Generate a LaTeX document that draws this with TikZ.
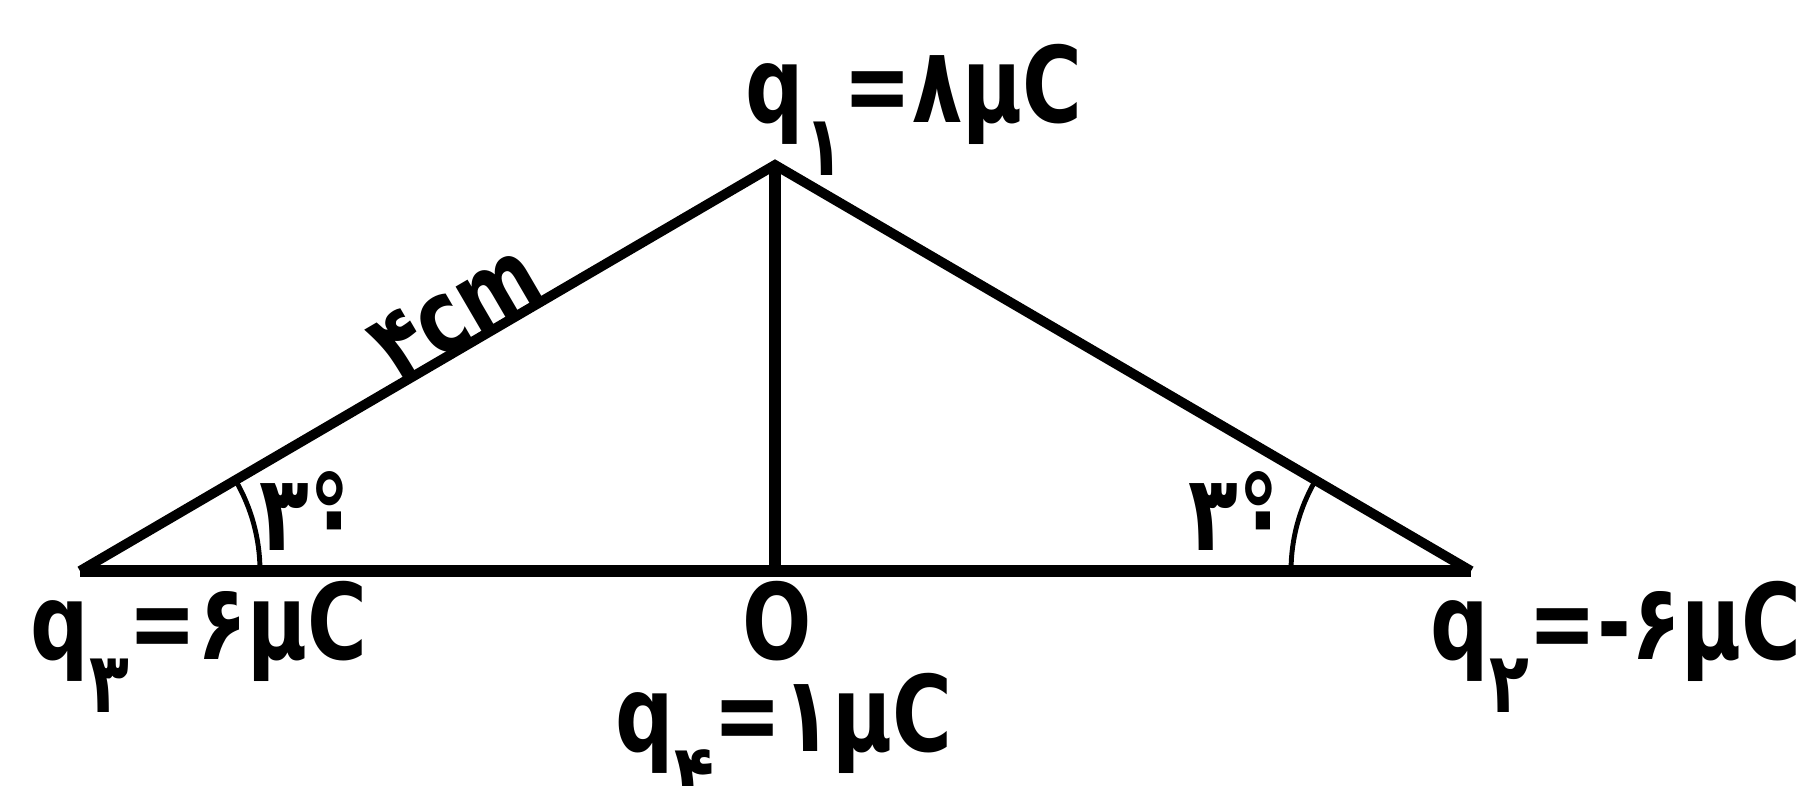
\documentclass[tikz,border=0pt]{standalone}
\usepackage{fontspec}
\setmainfont{DejaVu Sans Condensed}[FakeStretch=0.86]
\usetikzlibrary{calc, angles, positioning}

\newcommand{\qidx}[1]{q\raisebox{-15pt}{\fontsize{24}{26}\selectfont #1}}

\tikzset{
  lbl/.style={inner sep=0pt, anchor=base west, font=\fontsize{30}{34}\selectfont\bfseries},
  side/.style={line width=2.8pt},
  base/.style={line width=3.6pt},
  angmark/.style={draw, line width=1.4pt, angle radius=1.8cm}
}

\begin{document}
\begin{tikzpicture}
  \useasboundingbox (0,0) rectangle (18.05,7.86);
  % vertices
  \coordinate (A) at (7.75,6.21);
  \coordinate (B) at (0.80,2.15);
  \coordinate (C) at (14.71,2.15);
  \coordinate (O) at (7.75,2.15);
  % triangle and height
  \draw[base] (B) -- (C);
  \draw[base] (A) -- (O);
  \draw[side, line join=miter] (B) -- (A) -- (C);
  % angle marks
  \pic[angmark] {angle = C--B--A};
  \pic[angmark] {angle = A--C--B};
  % side length
  \path (B) -- (A) node[lbl, pos=0.565, sloped, anchor=base, font=\fontsize{29}{32}\selectfont\bfseries] (len) {۴cm};
  % charges
  \node[lbl] (q1) at (7.45,6.63) {\qidx{۱}=۸μC};
  \node[lbl] (q3) at (0.30,1.26) {\qidx{۳}=۶μC};
  \node[lbl] (q2) at (14.30,1.26) {\qidx{۲}=-۶μC};
  \node[lbl, anchor=base] (o) at (7.77,1.26) {O};
  \node[lbl] (q4) at (6.15,0.34) {\qidx{۴}=۱μC};
  % angles
  \node[lbl] (angB) at (2.59,2.35) {۳\rlap{°}۰};
  \node[lbl] (angC) at (11.88,2.35) {۳\rlap{°}۰};
\end{tikzpicture}
\end{document}
